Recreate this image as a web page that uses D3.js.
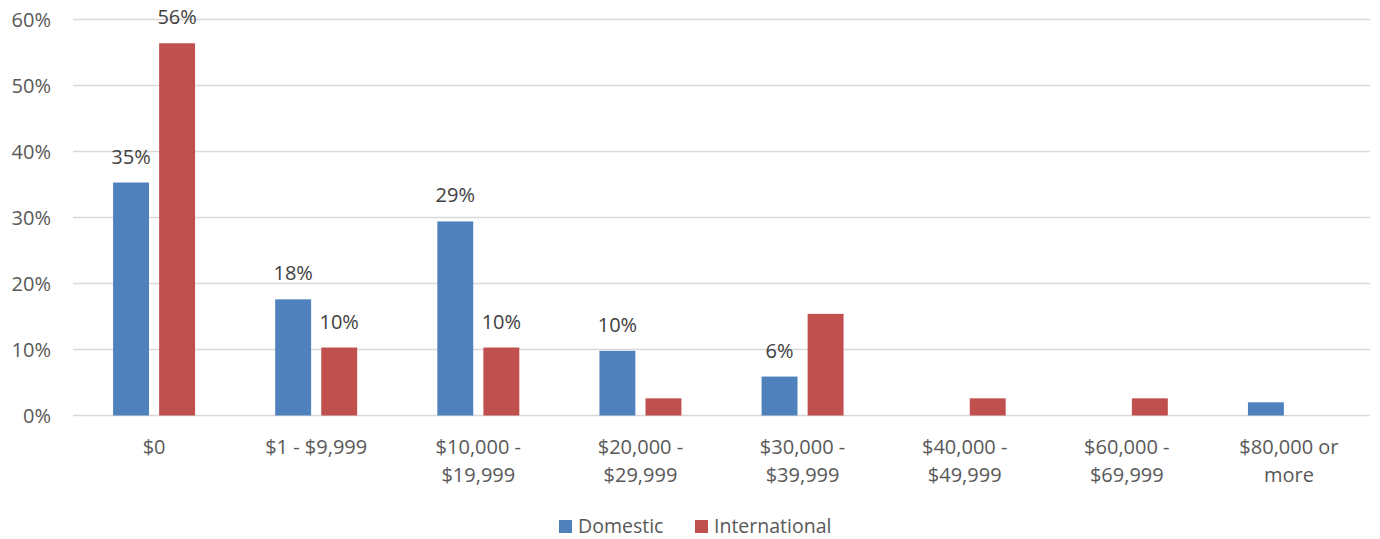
<!DOCTYPE html>
<html>
<head>
<meta charset="utf-8">
<script src="https://cdn.jsdelivr.net/npm/d3@7"></script>
<style>
  html, body { margin: 0; padding: 0; background: #fff; }
  svg text { font-family: "Open Sans", "Liberation Sans", sans-serif; }
</style>
</head>
<body>
<svg id="chart" width="1380" height="539"></svg>
<script>
// Annual scholarship / aid ranges
const categories = [
  ["$0"],
  ["$1 - $9,999"],
  ["$10,000 -", "$19,999"],
  ["$20,000 -", "$29,999"],
  ["$30,000 -", "$39,999"],
  ["$40,000 -", "$49,999"],
  ["$60,000 -", "$69,999"],
  ["$80,000 or", "more"]
];
const seriesNames = ["Domestic", "International"];
const domestic = [35.3, 17.6, 29.4, 9.8, 5.9, 0, 0, 2.0];
const international = [56.4, 10.3, 10.3, 2.6, 15.4, 2.6, 2.6, 0];
// Data labels shown on the chart (null = not labelled)
const domesticLabels = ["35%", "18%", "29%", "10%", "6%", null, null, null];
const internationalLabels = ["56%", "10%", "10%", null, "15%", null, null, null];
const yTicks = [0, 10, 20, 30, 40, 50, 60];
const colors = ["#4F81BD", "#C0504D"];

const svg = d3.select("#chart");
const plotLeft = 73, plotRight = 1370, plotTop = 19.5, plotBottom = 415.5;
const fontSize = 20;

const x0 = d3.scaleBand().domain(d3.range(categories.length)).range([plotLeft, plotRight]);
const x1 = d3.scaleBand().domain([0, 1]).range([0, x0.bandwidth()]).paddingInner(0.22).paddingOuter(0.87);
const y = d3.scaleLinear().domain([0, 60]).range([plotBottom, plotTop]);

// Gridlines
svg.append("g").selectAll("line").data(yTicks).join("line")
  .attr("x1", plotLeft).attr("x2", plotRight)
  .attr("y1", d => y(d)).attr("y2", d => y(d))
  .attr("stroke", "#D9D9D9").attr("stroke-width", 1.3);

// Y axis labels
svg.append("g").selectAll("text").data(yTicks).join("text")
  .attr("x", 51).attr("y", d => y(d))
  .attr("dy", "0.35em").attr("text-anchor", "end")
  .attr("font-size", fontSize).attr("fill", "#595959")
  .text(d => d + "%");

const series = [domestic, international];
const labels = [domesticLabels, internationalLabels];

series.forEach((vals, s) => {
  const g = svg.append("g");
  g.selectAll("rect").data(vals).join("rect")
    .attr("x", (d, i) => x0(i) + x1(s))
    .attr("width", x1.bandwidth())
    .attr("y", d => y(d))
    .attr("height", d => y(0) - y(d))
    .attr("fill", colors[s]);
  g.selectAll("text").data(vals).join("text")
    .filter((d, i) => labels[s][i] !== null)
    .attr("x", (d, i) => x0(i) + x1(s) + x1.bandwidth() / 2)
    .attr("y", d => y(d) - 19)
    .attr("text-anchor", "middle")
    .attr("font-size", fontSize).attr("fill", "#404040")
    .text((d, i) => labels[s][i]);
});

// Category labels
const xl = svg.append("g");
categories.forEach((lines, i) => {
  const cx = x0(i) + x0.bandwidth() / 2;
  const t = xl.append("text")
    .attr("x", cx)
    .attr("y", 454)
    .attr("text-anchor", "middle")
    .attr("font-size", fontSize).attr("fill", "#595959");
  lines.forEach((ln, k) => {
    t.append("tspan").attr("x", cx)
      .attr("dy", k === 0 ? 0 : 28).text(ln);
  });
});

// Legend
const legend = svg.append("g");
const legendItems = [
  { name: seriesNames[0], x: 559 },
  { name: seriesNames[1], x: 695 }
];
legendItems.forEach((it, s) => {
  legend.append("rect").attr("x", it.x).attr("y", 520).attr("width", 13).attr("height", 13).attr("fill", colors[s]);
  legend.append("text").attr("x", it.x + 19).attr("y", 533)
    .attr("font-size", 19.5).attr("fill", "#595959").text(it.name);
});
</script>
</body>
</html>
